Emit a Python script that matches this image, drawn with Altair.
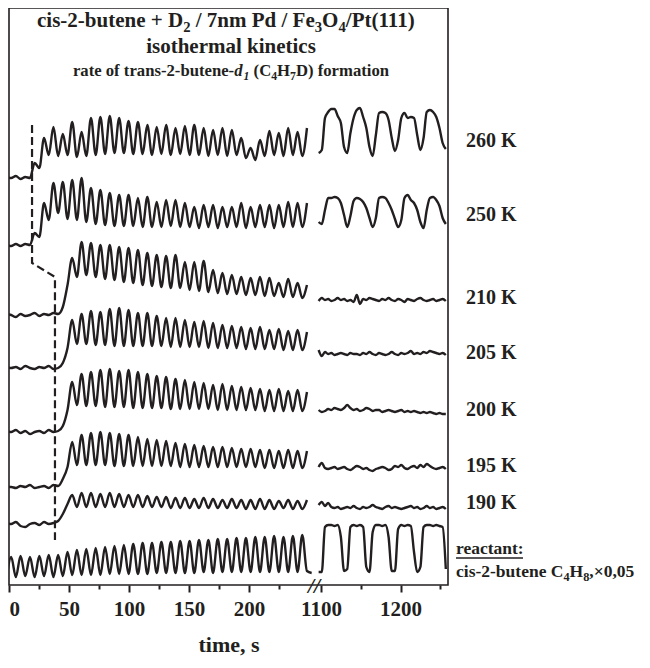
import altair as alt
import numpy as np
import pandas as pd

INK = "#231f20"
SERIF = "Liberation Serif"

TRACES = ["260 K", "250 K", "210 K", "205 K", "200 K", "195 K", "190 K", "reactant"]
# stacking offset of every trace (height of its base level above the x axis)
OFFSET = {"260 K": 407, "250 K": 339, "210 K": 270, "205 K": 217,
          "200 K": 153, "195 K": 98, "190 K": 61, "reactant": 8}

# part 1 of the time axis (0 - 250 s): samples every half pulse period
T1_START, T1_STEP = -2.1, 3.9125
# part 2 of the time axis (after the break): samples every 4 s
T2_START, T2_STEP = 1097.0, 4.0

part1_260 = [1, 0, 2, -1, 1, 0, 15, 10,
             40, 23, 51, 22, 44, 23, 56, 21, 46, 22, 60, 23, 61, 24, 62, 25, 60, 25, 57, 24,
             56, 24, 53, 23, 51, 24, 53, 23, 50, 24, 52, 23, 53, 23, 50, 22, 48, 23, 50, 22,
             48, 23, 40, 20, 30, 18, 38, 22, 47, 23, 45, 22, 50, 23, 46, 22, 50]
part1_250 = [1, 0, 2, 0, 2, 1, 13, 9,
             43, 26, 63, 33, 64, 27, 66, 26, 68, 24, 58, 22, 56, 21, 53, 20, 51, 20, 51, 20,
             48, 19, 49, 19, 44, 19, 46, 20, 46, 19, 43, 19, 39, 18, 41, 19, 41, 18, 39, 19,
             39, 19, 43, 18, 39, 19, 41, 19, 41, 18, 41, 19, 44, 19, 43, 19, 43]
part1_210 = [1, 0, -2, 1, -1, 0, 2, -1, 1, 0, 2, 1,
             8, 30, 57, 38, 73, 40, 72, 38, 70, 36, 70, 35, 68, 33, 67, 32, 65, 30, 62, 29,
             60, 28, 59, 27, 60, 27, 53, 25, 53, 24, 54, 23, 45, 22, 42, 21, 40, 21, 38, 20,
             37, 20, 38, 19, 37, 19, 32, 18, 36, 18, 32, 17, 30]
part1_205 = [1, 0, 1, -1, 2, 0, -1, 1, 0, 2, -1, 0,
             5, 20, 48, 24, 54, 24, 57, 23, 56, 23, 59, 22, 60, 22, 58, 22, 55, 22, 55, 22,
             52, 22, 50, 21, 50, 21, 48, 21, 46, 21, 47, 20, 45, 20, 43, 20, 42, 20, 41, 19,
             40, 19, 41, 19, 38, 19, 39, 18, 37, 18, 38, 18, 36]
part1_200 = [1, 0, 2, -1, 1, -2, 0, 1, -1, 2, 0, 1,
             6, 22, 50, 27, 58, 26, 60, 26, 62, 25, 63, 25, 61, 25, 62, 24, 60, 24, 58, 24,
             56, 24, 55, 23, 53, 23, 52, 23, 50, 23, 49, 23, 47, 22, 48, 22, 46, 22, 45, 22,
             44, 22, 43, 21, 42, 21, 43, 21, 41, 21, 42, 21, 40]
part1_195 = [0, 0, -1, 1, 0, 2, -1, 0, 1, -1, 2, 1,
             8, 20, 45, 22, 52, 22, 54, 22, 55, 22, 54, 21, 53, 21, 52, 21, 50, 21, 48, 21,
             47, 21, 46, 21, 44, 20, 43, 20, 42, 20, 41, 20, 40, 20, 40, 20, 39, 20, 38, 20,
             38, 20, 37, 19, 37, 19, 36, 19, 37, 19, 36, 19, 36]
part1_190 = [1, 0, 2, -2, -3, 0, 1, -1, 2, 0, 1, 3,
             10, 20, 29, 17, 31, 17, 31, 17, 30, 17, 31, 17, 30, 17, 29, 17, 29, 17, 28, 17,
             27, 17, 27, 16, 26, 16, 26, 16, 25, 16, 26, 16, 25, 16, 24, 16, 25, 16, 24, 15,
             24, 15, 25, 15, 24, 15, 23, 16, 24, 15, 23, 15, 24]
part1_reactant = [-2, 20, 0, 21, 1, 20, 0, 21, 1, 22, 0, 22, 1, 25, 2, 27, 2, 28, 2, 29,
                  2, 30, 3, 31, 3, 32, 3, 33, 3, 34, 3, 34, 4, 35, 4, 35, 4, 36, 4, 36,
                  4, 37, 5, 37, 4, 38, 5, 38, 5, 39, 5, 39, 5, 40, 5, 40, 5, 41, 5, 40,
                  5, 41, 5, 42, 6, 4]

part2_260 = [25, 28, 60, 66, 69, 69, 62, 55, 31, 25, 45, 60, 68, 70, 61, 50, 31, 22, 43, 65,
             66, 65, 58, 40, 27, 38, 60, 65, 60, 61, 60, 43, 28, 40, 66, 68, 66, 61, 50, 35, 29]
part2_250 = [24, 22, 36, 48, 48, 49, 48, 43, 31, 19, 30, 45, 48, 47, 44, 38, 28, 19, 28, 48,
             49, 48, 43, 36, 27, 19, 26, 48, 51, 46, 43, 36, 24, 18, 36, 48, 49, 46, 40, 28, 22]
part2_210 = [14, 17, 15, 16, 14, 15, 17, 15, 16, 14, 15, 13, 20, 11, 16, 15, 17, 16, 15, 14,
             16, 15, 17, 15, 14, 16, 15, 13, 16, 15, 14, 16, 17, 15, 14, 15, 16, 14, 15, 16, 14]
part2_205 = [18, 12, 16, 14, 15, 13, 14, 15, 14, 13, 15, 14, 14, 13, 15, 14, 16, 14, 13, 15,
             14, 13, 14, 16, 14, 13, 15, 14, 15, 17, 14, 15, 14, 16, 15, 17, 16, 15, 14, 15, 13]
part2_200 = [22, 20, 21, 23, 22, 24, 23, 22, 24, 27, 24, 22, 23, 21, 22, 24, 23, 21, 22, 22,
             20, 21, 22, 21, 20, 21, 22, 20, 21, 20, 21, 20, 19, 20, 19, 20, 19, 18, 19, 18, 18]
part2_195 = [20, 24, 19, 18, 19, 20, 18, 19, 20, 18, 17, 19, 21, 20, 18, 19, 17, 16, 18, 19,
             20, 19, 17, 18, 21, 20, 22, 19, 18, 20, 21, 19, 22, 20, 23, 21, 19, 18, 19, 20, 18]
part2_190 = [19, 22, 18, 21, 17, 16, 17, 15, 16, 17, 16, 18, 16, 15, 17, 16, 17, 19, 17, 16,
             15, 17, 18, 16, 17, 16, 15, 16, 17, 18, 16, 17, 15, 16, 18, 16, 17, 15, 16, 17, 15]
part2_reactant = [5, 5, 50, 52, 52, 51, 52, 40, 6, 8, 50, 52, 51, 52, 50, 10, 5, 45, 52, 52,
                  51, 52, 40, 6, 6, 48, 52, 51, 52, 51, 25, 5, 10, 50, 52, 52, 51, 52, 51, 50, 8]

PART1 = dict(zip(TRACES, [part1_260, part1_250, part1_210, part1_205,
                          part1_200, part1_195, part1_190, part1_reactant]))
PART2 = dict(zip(TRACES, [part2_260, part2_250, part2_210, part2_205,
                          part2_200, part2_195, part2_190, part2_reactant]))

# dashed guide marking the onset of reaction
guide_t = [19.2, 19.2, 38.3, 38.3]
guide_h = [460, 322, 308, 45]

# right-hand labels
label_text = ["260 K", "250 K", "210 K", "205 K", "200 K", "195 K", "190 K"]
label_h = [444, 370, 287, 232, 175, 119, 82]

# broken time axis: 0-250 s, then 1100 s onwards compressed
SEG2_T0, SEG2_X0, SEG2_RATIO = 1100, 260, 0.6625
XS_EXPR = f"datum.t < 600 ? datum.t : {SEG2_X0} + (datum.t - {SEG2_T0}) * {SEG2_RATIO}"
tick_t = [0, 25, 50, 75, 100, 125, 150, 175, 200, 225, 1100, 1150, 1200, 1250]
labeled_t = [0, 50, 100, 150, 200, 1100, 1200]
tick_xs = [t if t < 600 else SEG2_X0 + (t - SEG2_T0) * SEG2_RATIO for t in tick_t]
T_OF_VAL = f"round(datum.value < 255 ? datum.value : {SEG2_T0} + (datum.value - {SEG2_X0}) / {SEG2_RATIO})"
IS_MAJOR = f"indexof({labeled_t}, {T_OF_VAL}) >= 0"

rows = []
for name in TRACES:
    for seg, (vals, t0, dt) in enumerate([(PART1[name], T1_START, T1_STEP),
                                          (PART2[name], T2_START, T2_STEP)]):
        for i, v in enumerate(vals):
            rows.append({"key": f"{name}|{seg}", "t": t0 + dt * i, "h": OFFSET[name] + v})
df = pd.DataFrame(rows)
guide_df = pd.DataFrame({"t": guide_t, "h": guide_h, "o": range(len(guide_t))})
labels_df = pd.DataFrame({"text": label_text, "h": label_h})

x_enc = alt.X(
    "xs:Q",
    scale=alt.Scale(domain=[0, 365.83], nice=False, zero=False),
    title="time, s",
    axis=alt.Axis(
        values=tick_xs,
        labelExpr=f"{IS_MAJOR} ? {T_OF_VAL} : ''",
        tickSize={"condition": {"test": IS_MAJOR, "value": 7}, "value": 4},
        labelAlign={"condition": {"test": "datum.value == 0", "value": "left"}, "value": "center"},
        tickWidth=2, tickColor=INK, domain=False, grid=False,
        labelFont=SERIF, labelFontWeight="bold", labelFontSize=21, labelColor=INK,
        labelPadding=6, labelOverlap=False, labelFlush=False,
        titleFont=SERIF, titleFontWeight="bold", titleFontSize=22, titleColor=INK,
        titlePadding=15,
    ),
)
y_enc = alt.Y("h:Q", scale=alt.Scale(domain=[0, 577], nice=False, zero=False), axis=None)

lines = alt.Chart(df).transform_calculate(xs=XS_EXPR).mark_line(
    interpolate="monotone", strokeWidth=2.4, color=INK, clip=True
).encode(x=x_enc, y=y_enc, detail="key:N")

guide = alt.Chart(guide_df).transform_calculate(xs=XS_EXPR).mark_line(
    strokeWidth=2.2, color=INK, strokeDash=[8, 4]
).encode(x=x_enc, y=y_enc, order="o:Q")

labels = alt.Chart(labels_df).mark_text(
    font=SERIF, fontWeight="bold", fontSize=20, color=INK, align="left", baseline="middle"
).encode(x=alt.value(457), y=alt.Y("h:Q"), text="text:N")

one = pd.DataFrame({"v": [0]})

# Times-Bold advance widths (1/1000 em) for laying out runs with subscripts
ADV = {" ": 250, "(": 333, ")": 333, "+": 570, ",": 250, "-": 333, "/": 278, ":": 333,
       "\u00d7": 570, "C": 722, "D": 722, "F": 611, "H": 778, "O": 778, "P": 611, "K": 778,
       "a": 500, "b": 556, "c": 444, "d": 556, "e": 444, "f": 333, "h": 556, "i": 278,
       "k": 556, "l": 278, "m": 833, "n": 556, "o": 500, "p": 556, "r": 444, "s": 389,
       "t": 333, "u": 556}
SUB_SCALE, SUB_DROP = 0.7, 0.22


def adv(s):
    return sum(ADV.get(c, 500) for c in s) / 1000.0


def rich(parts, x, y, size, align="center", baseline="alphabetic"):
    """parts: list of (text, italic, subscript). x, y in pixels of the plot group."""
    widths = [adv(t) * (size * SUB_SCALE if sub else size) for t, _, sub in parts]
    cur = x - sum(widths) / 2 if align == "center" else x
    out = []
    for (t, ital, sub), w in zip(parts, widths):
        fs = size * SUB_SCALE if sub else size
        lead = len(t) - len(t.lstrip(" "))
        s = t.strip(" ")
        out.append(alt.Chart(one).mark_text(
            text=s, font=SERIF, fontWeight="bold", fontStyle="italic" if ital else "normal",
            fontSize=fs, color=INK, align="left", baseline=baseline
        ).encode(x=alt.value(cur + lead * 0.25 * fs),
                 y=alt.value(y + (SUB_DROP * size if sub else 0))))
        cur += w
    return out


N, I, S = (False, False), (True, False), (False, True)
title1 = rich([("cis-2-butene + D", *N), ("2", *S), (" / 7nm Pd / Fe", *N), ("3", *S),
               ("O", *N), ("4", *S), ("/Pt(111)", *N)], 218, 19, 21)
title2 = rich([("isothermal kinetics", *N)], 222, 45, 21)
title3 = rich([("rate of trans-2-butene-", *N), ("d", *I), ("1", True, True), (" (C", *N),
               ("4", *S), ("H", *N), ("7", *S), ("D) formation", *N)], 222, 68, 16.7)
react1 = rich([("reactant:", *N)], 447, 546, 17.5, align="left")
react2 = rich([("cis-2-butene C", *N), ("4", *S), ("H", *N), ("8", *S), (",\u00d70,05", *N)],
              447, 569, 17.5, align="left")
underline = alt.Chart(one).mark_rule(color=INK, strokeWidth=1.3).encode(
    x=alt.value(447), x2=alt.value(514), y=alt.value(550)
)
brk = alt.Chart(one).mark_text(
    text="//", font=SERIF, fontWeight="bold", fontStyle="italic", fontSize=22,
    color=INK, align="center", baseline="middle"
).encode(x=alt.value(305), y=alt.value(578))

chart = alt.layer(
    lines, guide, labels, *title1, *title2, *title3, *react1, *react2, underline, brk
).properties(
    width=439, height=577, background="white",
    padding={"left": 0, "top": 0, "right": 4, "bottom": 4},
).configure_view(stroke=INK, strokeWidth=1.6)

chart.save("out.html", embed_options={"renderer": "svg", "actions": False})
